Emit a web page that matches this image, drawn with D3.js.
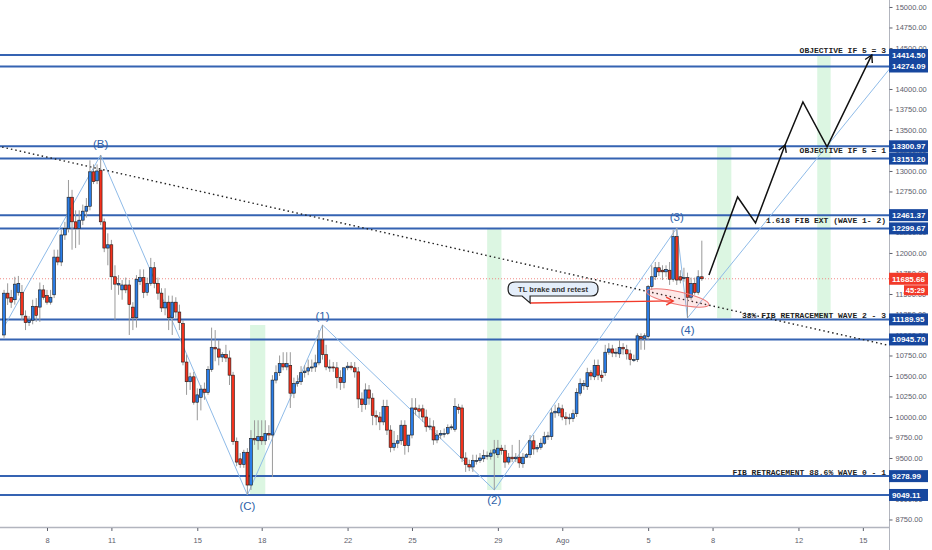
<!DOCTYPE html>
<html>
<head>
<meta charset="utf-8">
<script src="https://cdn.jsdelivr.net/npm/d3@7"></script>
<style>
  html, body { margin: 0; padding: 0; background: #fff; }
  svg { display: block; font-family: "Liberation Sans", Arial, sans-serif; }
</style>
</head>
<body>
<div id="chart"></div>
<script>
const utc = (m, d, h = 0) => Date.UTC(2019, m - 1, d, h);

// BTC 4h candles, [open, high, low, close], first one at 6 Jul 00:00
const candles = [
  [11000,11550,10965,11510],[11510,11630,11366,11450],[11460,11550,11330,11400],[11430,11710,11370,11620],
  [11520,11720,11480,11630],[11520,11610,11180,11245],[11230,11300,11060,11150],[11150,11230,11110,11180],
  [11180,11430,11130,11350],[11350,11450,11160,11240],[11340,11640,11160,11550],[11550,11610,11430,11460],
  [11480,11550,11370,11400],[11400,11550,11370,11460],[11490,12040,11450,11950],[11950,12040,11850,11890],
  [11890,12280,11840,12220],[12220,12380,12160,12300],[12300,12890,12250,12680],[12680,12770,12040,12380],
  [12380,12520,12060,12300],[12300,12520,12100,12400],[12400,12590,12340,12510],[12510,12670,12430,12570],
  [12570,13130,12520,12990],[12990,13080,12840,12870],[12880,13080,12840,13000],[13010,13195,12340,12380],
  [12380,12420,12010,12060],[12060,12240,11850,12100],[12100,12160,11550,11710],[11710,11850,11180,11620],
  [11610,11730,11490,11630],[11550,11670,11430,11610],[11610,11700,11510,11550],[11610,11670,11000,11370],
  [11340,11400,11060,11210],[11210,11730,11090,11680],[11650,11800,11610,11700],[11700,11800,11450,11520],
  [11520,11700,11480,11630],[11630,11940,11600,11820],[11820,11890,11570,11630],[11630,11700,11430,11510],
  [11510,11570,11280,11330],[11330,11570,11240,11400],[11400,11480,11060,11210],[11210,11480,11000,11400],
  [11400,11460,11210,11280],[11280,11370,11060,11150],[11140,11180,10630,10670],[10670,10760,10270,10430],
  [10430,10540,10330,10490],[10490,10550,10150,10180],[10180,10350,9960,10270],[10240,10390,10080,10340],
  [10340,10420,10210,10300],[10300,10620,10270,10580],[10580,11090,10550,10850],[10850,11060,10680,10830],
  [10830,10940,10630,10730],[10730,10790,10670,10760],[10760,10880,10670,10720],[10720,10810,10390,10510],
  [10510,10550,9660,9700],[9700,9750,9400,9450],[9490,9560,9380,9420],[9420,9600,9380,9570],
  [9570,9620,9049,9170],[9170,9840,9110,9740],[9740,9960,9660,9720],[9710,9960,9600,9760],
  [9760,9960,9660,9710],[9710,9960,9660,9800],[9800,9900,9720,9780],[9780,10510,9270,10450],
  [10450,10630,10410,10540],[10540,10750,10500,10650],[10650,10790,10570,10610],[10610,10790,10570,10650],
  [10630,10790,10110,10290],[10290,10480,10230,10410],[10410,10510,10370,10430],[10430,10620,10390,10540],
  [10540,10630,10480,10560],[10560,10700,10510,10600],[10600,10700,10550,10610],[10610,10760,10550,10660],
  [10660,11060,10630,10940],[10940,11122,10700,10760],[10760,10880,10570,10610],[10600,10700,10550,10610],
  [10610,10670,10550,10600],[10600,10670,10350,10480],[10480,10570,10330,10420],[10420,10600,10350,10600],
  [10600,10670,10570,10620],[10620,10670,10570,10600],[10600,10670,10480,10550],[10550,10610,10110,10220],
  [10220,10300,10060,10150],[10150,10410,10090,10330],[10330,10390,10150,10230],[10230,10290,9900,10020],
  [10020,10080,9900,10000],[10000,10060,9840,9940],[9940,10210,9900,10130],[10130,10210,9780,9840],
  [9840,9900,9570,9630],[9630,9830,9590,9680],[9680,9780,9620,9710],[9710,9960,9660,9900],
  [9900,9960,9540,9650],[9650,9780,9570,9780],[9780,10230,9740,10110],[10110,10230,10020,10090],
  [10100,10150,9990,10070],[10100,10150,9940,10000],[10000,10090,9820,9880],[9880,9990,9840,9890],
  [9880,9960,9660,9720],[9720,9840,9680,9780],[9780,9840,9730,9800],[9800,9860,9750,9800],
  [9800,9910,9780,9870],[9870,9910,9840,9880],[9850,10230,9820,10130],[10120,10160,10040,10090],
  [10110,10150,9450,9500],[9500,9570,9330,9420],[9420,9480,9340,9390],[9390,9540,9330,9470],
  [9470,9540,9420,9470],[9470,9560,9440,9500],[9490,9600,9450,9530],[9530,9580,9480,9530],
  [9520,9600,9480,9560],[9560,9720,9110,9600],[9540,9720,9500,9620],[9620,9660,9540,9590],
  [9590,9660,9380,9450],[9450,9560,9420,9510],[9510,9660,9450,9490],[9490,9560,9450,9510],
  [9510,9720,9380,9440],[9430,9560,9380,9510],[9510,9560,9500,9540],[9540,9780,9500,9710],
  [9710,9780,9540,9610],[9610,9660,9570,9630],[9630,9740,9600,9680],[9680,9820,9660,9760],
  [9760,9820,9720,9770],[9760,10110,9720,10050],[10050,10150,9990,10070],[10050,10170,10010,10110],
  [10100,10150,9960,10000],[10000,10060,9900,9980],[9980,10040,9910,9990],[9980,10090,9940,10040],
  [10040,10350,10000,10300],[10290,10470,10260,10410],[10380,10450,10330,10410],[10370,10600,10330,10540],
  [10540,10570,10450,10500],[10490,10700,10450,10630],[10630,10700,10450,10510],[10510,10570,10430,10480],
  [10540,10880,10500,10790],[10790,10900,10760,10830],[10830,10880,10730,10780],[10790,10840,10730,10790],
  [10770,10940,10720,10850],[10850,10900,10760,10830],[10820,10880,10700,10770],[10770,10820,10630,10700],
  [10700,10760,10670,10700],[10700,11020,10670,10990],[10980,11020,10820,10960],[10960,11020,10820,10990],
  [10980,11610,10940,11590],[11590,11850,11550,11710],[11710,11890,11670,11820],[11820,11890,11720,11770],
  [11790,11850,11670,11770],[11770,11850,11710,11800],[11790,11890,11610,11680],[11680,12280,11650,12200],
  [12200,12305,11610,11670],[11710,11790,11630,11670],[11700,11820,11650,11700],[11700,11760,11207,11460],
  [11460,11700,11430,11630],[11630,11700,11490,11520],[11520,11790,11490,11710],[11710,12150,11660,11685.66]
];
const firstCandle = utc(7, 6);
const candleHours = 4;
const lastPrice = 11685.66;
const countdown = "45:29";

// horizontal levels drawn on the chart
const levels = [14414.50, 14274.09, 13300.97, 13151.20, 12461.37, 12299.67, 11189.95, 10945.70, 9278.99, 9049.11];

// text notes sitting on levels
const noteTexts = ["OBJECTIVE IF 5 = 3", "OBJECTIVE IF 5 = 1", "1.618 FIB EXT (WAVE 1- 2)", "38% FIB RETRACEMENT WAVE 2 - 3", "FIB RETRACEMENT 88.6% WAVE 0 - 1"];
const notePrices = [14414.50, 13300.97, 12461.37, 11189.95, 9278.99];

// elliott wave count
const waveDates = [utc(7, 6), utc(7, 10, 12), utc(7, 17, 8), utc(7, 20, 20), utc(7, 28, 20), utc(8, 6, 8), utc(8, 6, 20), utc(8, 18, 12)];
const wavePrices = [11100, 13195, 9049, 11122, 9110, 12305, 11207, 14973];
const waveNames = ["", "(B)", "(C)", "(1)", "(2)", "(3)", "(4)", ""];

// dotted trend line
const trendDates = [utc(7, 5, 12), utc(8, 18, 12)];
const trendPrices = [13315, 10739];

// projected path (two arrows)
const proj1Dates = [utc(8, 7, 20), utc(8, 9, 4), utc(8, 10, 0), utc(8, 11, 9)];
const proj1Prices = [11732, 12683, 12366, 13317];
const proj2Dates = [utc(8, 11, 9), utc(8, 12, 5), utc(8, 13, 8), utc(8, 15, 10)];
const proj2Prices = [13317, 13841, 13293, 14415];

// time windows (green)
const bandStarts = [utc(7, 17, 11), utc(7, 28, 12), utc(8, 8, 5), utc(8, 12, 21)];
const bandEnds = [utc(7, 18, 4), utc(7, 29, 4), utc(8, 8, 21), utc(8, 13, 12)];
const bandTops = [11122, 12305, 13300.97, 14414.50];
const bandBottoms = [9049, 9110, 11207, 11207];

// callout + arrow + ellipse
const calloutText = "TL brake and retest";
const calloutAt = [utc(7, 30, 12), 11390];
const retestArrowEnd = [utc(8, 6, 4), 11415];
const retestEllipse = [utc(8, 6, 9), 11451];

// axes
const dateTicks = [utc(7, 8), utc(7, 11), utc(7, 15), utc(7, 18), utc(7, 22), utc(7, 25), utc(7, 29), utc(8, 1), utc(8, 5), utc(8, 8), utc(8, 12), utc(8, 15)];
const dateTickLabels = ["8", "11", "15", "18", "22", "25", "29", "Ago", "5", "8", "12", "15"];
const priceTicks = d3.range(8750, 15001, 250);

/**
 * Draw the whole chart
 */
function drawChart() {
    const W = 932, H = 550;
    const plotW = 889, plotH = 527;

    const COLORS = {
        up: "#2a7de8",
        down: "#f4311c",
        outline: "#1a1a1a",
        wick: "#9a9a9a",
        level: "#3563b2",
        levelBox: "#17479e",
        wave: "#8fbbe8",
        waveText: "#2e5fa8",
        band: "rgba(80, 210, 110, 0.2)",
        red: "#f23a2a",
        axis: "#b2b5be",
        tick: "#5d606b",
    };

    const svg = d3.select("#chart").append("svg").attr("width", W).attr("height", H);

    const x = d3.scaleUtc()
        .domain([Date.UTC(2019, 6, 5, 19, 28), Date.UTC(2019, 7, 16, 5, 14)])
        .range([0, plotW]);
    const y = d3.scaleLinear().domain([8658.5, 15085]).range([plotH, 0]);

    const defs = svg.append("defs");
    defs.append("clipPath").attr("id", "plot-clip")
        .append("rect").attr("width", plotW).attr("height", plotH);

    //Open arrow heads
    const addArrow = (id, color) => defs.append("marker")
        .attr("id", id)
        .attr("viewBox", "-10 -6 12 12")
        .attr("refX", 0).attr("refY", 0)
        .attr("markerWidth", 12).attr("markerHeight", 12)
        .attr("markerUnits", "userSpaceOnUse")
        .attr("orient", "auto")
        .append("path")
        .attr("d", "M-7,-4 L0,0 L-7,4")
        .attr("fill", "none")
        .attr("stroke", color)
        .attr("stroke-width", 1.4);
    addArrow("arrow-black", "#111");
    addArrow("arrow-red", COLORS.red);

    const plot = svg.append("g").attr("clip-path", "url(#plot-clip)");

    //Green time windows
    plot.append("g").selectAll("rect")
        .data(bandStarts.map((s, i) => ({ s, e: bandEnds[i], top: bandTops[i], bottom: bandBottoms[i] })))
        .join("rect")
        .attr("x", (d) => x(d.s))
        .attr("width", (d) => x(d.e) - x(d.s))
        .attr("y", (d) => y(d.top))
        .attr("height", (d) => y(d.bottom) - y(d.top))
        .attr("fill", COLORS.band);

    //Last price dotted line
    plot.append("line")
        .attr("x1", 0).attr("x2", plotW)
        .attr("y1", y(lastPrice)).attr("y2", y(lastPrice))
        .attr("stroke", "#f08a84")
        .attr("stroke-width", 1)
        .attr("stroke-dasharray", "1,2");

    //Horizontal levels
    plot.append("g").selectAll("line")
        .data(levels)
        .join("line")
        .attr("x1", 0).attr("x2", plotW)
        .attr("y1", (d) => y(d)).attr("y2", (d) => y(d))
        .attr("stroke", COLORS.level)
        .attr("stroke-width", 2);

    //Wave count
    const line = d3.line().x((d) => x(d[0])).y((d) => y(d[1]));
    plot.append("path")
        .attr("d", line(waveDates.map((t, i) => [t, wavePrices[i]])))
        .attr("fill", "none")
        .attr("stroke", COLORS.wave)
        .attr("stroke-width", 1);

    //Dotted trend line
    plot.append("path")
        .attr("d", line(trendDates.map((t, i) => [t, trendPrices[i]])))
        .attr("fill", "none")
        .attr("stroke", "#222")
        .attr("stroke-width", 1.4)
        .attr("stroke-dasharray", "1.5,3");

    //Candles
    const bars = candles.map(([o, h, l, c], i) => ({
        t: firstCandle + i * candleHours * 36e5,
        o, c,
        h: Math.max(h, o, c),
        l: Math.min(l, o, c),
    }));
    const bw = 2.8;
    const candleG = plot.append("g");
    candleG.selectAll("line")
        .data(bars)
        .join("line")
        .attr("x1", (d) => x(d.t)).attr("x2", (d) => x(d.t))
        .attr("y1", (d) => y(d.h)).attr("y2", (d) => y(d.l))
        .attr("stroke", COLORS.wick)
        .attr("stroke-width", 1);
    candleG.selectAll("rect")
        .data(bars)
        .join("rect")
        .attr("x", (d) => x(d.t) - bw / 2)
        .attr("width", bw)
        .attr("y", (d) => y(Math.max(d.o, d.c)))
        .attr("height", (d) => Math.max(1, Math.abs(y(d.o) - y(d.c))))
        .attr("fill", (d) => (d.c >= d.o ? COLORS.up : COLORS.down))
        .attr("stroke", COLORS.outline)
        .attr("stroke-width", 0.6);

    //Wave labels
    const waveOffset = { "(B)": -7, "(C)": 15, "(1)": -5, "(2)": 14, "(3)": -7, "(4)": 16 };
    plot.append("g").selectAll("text")
        .data(waveNames.map((n, i) => ({ n, t: waveDates[i], p: wavePrices[i] })).filter((d) => d.n))
        .join("text")
        .attr("x", (d) => x(d.t))
        .attr("y", (d) => y(d.p) + waveOffset[d.n])
        .attr("text-anchor", "middle")
        .attr("font-size", 11.5)
        .attr("fill", COLORS.waveText)
        .text((d) => d.n);

    //Projection arrows
    [[proj1Dates, proj1Prices], [proj2Dates, proj2Prices]].forEach(([ds, ps]) => {
        plot.append("path")
            .attr("d", line(ds.map((t, i) => [t, ps[i]])))
            .attr("fill", "none")
            .attr("stroke", "#111")
            .attr("stroke-width", 1.5)
            .attr("stroke-linejoin", "miter")
            .attr("marker-end", "url(#arrow-black)");
    });

    //Retest ellipse
    const ex = x(retestEllipse[0]), ey = y(retestEllipse[1]);
    plot.append("ellipse")
        .attr("cx", 0).attr("cy", 0)
        .attr("rx", 32).attr("ry", 6.5)
        .attr("transform", `translate(${ex},${ey}) rotate(12)`)
        .attr("fill", "rgba(242, 90, 90, 0.14)")
        .attr("stroke", "#ef7a78")
        .attr("stroke-width", 1);

    //Red arrow from the callout
    const tx = x(calloutAt[0]), ty = y(calloutAt[1]);
    plot.append("line")
        .attr("x1", tx).attr("y1", ty)
        .attr("x2", x(retestArrowEnd[0])).attr("y2", y(retestArrowEnd[1]))
        .attr("stroke", COLORS.red)
        .attr("stroke-width", 1.3)
        .attr("marker-end", "url(#arrow-red)");

    //Callout bubble
    const L = tx - 22, R = tx + 68, T = ty - 21, B = ty - 7, r = 7;
    plot.append("path")
        .attr("d", `M${L + r},${T} H${R - r} Q${R},${T} ${R},${T + r} Q${R},${B} ${R - r},${B}
            H${tx} L${tx},${ty} L${tx - 8},${B} H${L + r} Q${L},${B} ${L},${B - r} Q${L},${T} ${L + r},${T} Z`)
        .attr("fill", "#e4eefa")
        .attr("stroke", "#222")
        .attr("stroke-width", 1.2);
    plot.append("text")
        .attr("x", (L + R) / 2)
        .attr("y", (T + B) / 2 + 3)
        .attr("text-anchor", "middle")
        .attr("font-size", 7.6)
        .attr("font-weight", "bold")
        .attr("fill", "#333")
        .text(calloutText);

    //Level notes
    const noteDy = [-2, 7, 8, -1.5, -1.5];
    plot.append("g").selectAll("text")
        .data(noteTexts.map((s, i) => ({ s, p: notePrices[i], dy: noteDy[i] })))
        .join("text")
        .attr("x", plotW - 3)
        .attr("y", (d) => y(d.p) + d.dy)
        .attr("text-anchor", "end")
        .attr("font-family", "'Liberation Mono', 'DejaVu Sans Mono', monospace")
        .attr("font-weight", "bold")
        .attr("font-size", 8)
        .attr("fill", "#1d1d1d")
        .text((d) => d.s);

    //Axis lines
    svg.append("line")
        .attr("x1", 0).attr("x2", plotW)
        .attr("y1", plotH + 0.5).attr("y2", plotH + 0.5)
        .attr("stroke", COLORS.axis).attr("stroke-width", 1.5);
    svg.append("line")
        .attr("x1", plotW + 0.5).attr("x2", plotW + 0.5)
        .attr("y1", 0).attr("y2", H)
        .attr("stroke", COLORS.axis).attr("stroke-width", 1);

    //Price axis
    const yAxis = svg.append("g")
        .attr("transform", `translate(${plotW + 0.5},0)`)
        .call(d3.axisRight(y).tickValues(priceTicks).tickFormat(d3.format(".2f")).tickSize(3).tickPadding(3));
    yAxis.select(".domain").remove();
    yAxis.selectAll("line").attr("stroke", COLORS.tick);
    yAxis.selectAll("text").attr("font-size", 7.5).attr("fill", COLORS.tick).attr("font-family", "'Liberation Sans', Arial, sans-serif");

    //Date axis
    const xAxis = svg.append("g")
        .attr("transform", `translate(0,${plotH + 1})`)
        .call(d3.axisBottom(x).tickValues(dateTicks).tickFormat((d, i) => dateTickLabels[i]).tickSize(3).tickPadding(7));
    xAxis.select(".domain").remove();
    xAxis.selectAll("line").attr("stroke", COLORS.tick);
    xAxis.selectAll("text").attr("font-size", 7.5).attr("fill", COLORS.tick).attr("font-family", "'Liberation Sans', Arial, sans-serif");

    //Level price boxes
    const boxes = svg.append("g");
    const box = (price, fill, label) => {
        const cy = y(price);
        boxes.append("rect")
            .attr("x", plotW).attr("y", cy - 6)
            .attr("width", 39).attr("height", 12)
            .attr("fill", fill);
        boxes.append("text")
            .attr("x", plotW + 3).attr("y", cy + 3)
            .attr("font-size", 8).attr("font-weight", "bold")
            .attr("fill", "#fff")
            .text(label);
    };
    levels.forEach((p) => box(p, COLORS.levelBox, d3.format(".2f")(p)));
    box(lastPrice, COLORS.red, d3.format(".2f")(lastPrice));

    //Countdown under last price
    const cy = y(lastPrice) + 12;
    boxes.append("rect")
        .attr("x", plotW + 15).attr("y", cy - 5.5)
        .attr("width", 24).attr("height", 10)
        .attr("fill", COLORS.red);
    boxes.append("text")
        .attr("x", plotW + 36).attr("y", cy + 2.5)
        .attr("text-anchor", "end")
        .attr("font-size", 7.5).attr("font-weight", "bold")
        .attr("fill", "#fff")
        .text(countdown);
}

drawChart();
</script>
</body>
</html>
